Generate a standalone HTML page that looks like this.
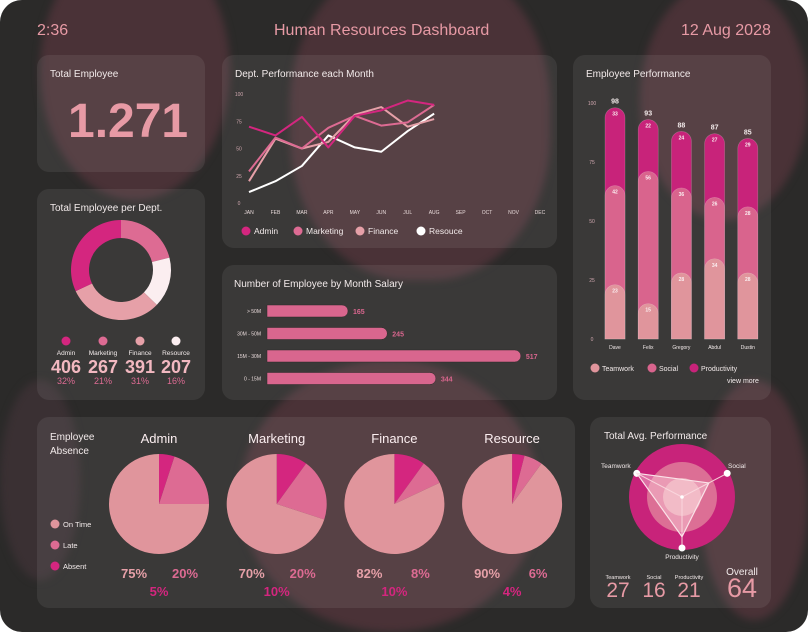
<!DOCTYPE html>
<html><head><meta charset="utf-8">
<style>
html,body{margin:0;padding:0;background:#fff;overflow:hidden;width:808px;height:632px;}
body{font-family:"Liberation Sans",sans-serif;position:relative;}
#frame{position:absolute;left:0;top:0;width:808px;height:632px;border-radius:22px;overflow:hidden;background:#2b2a29;}
.blob{position:absolute;background:#4a3237;border-radius:50%;filter:blur(4px);}
.panel{position:absolute;background:rgba(255,255,255,0.075);border-radius:12px;}
.t{position:absolute;color:#f2eaea;font-size:10px;white-space:nowrap;}
svg{position:absolute;left:0;top:0;}
</style></head><body>
<div id="frame">
<div class="blob" style="left:40px;top:-60px;width:190px;height:260px;"></div>
<div class="blob" style="left:290px;top:-40px;width:260px;height:320px;border-radius:45%;"></div>
<div class="blob" style="left:640px;top:-20px;width:168px;height:240px;"></div>
<div class="blob" style="left:240px;top:360px;width:300px;height:272px;"></div>
<div class="blob" style="left:700px;top:380px;width:108px;height:240px;"></div>
<div class="blob" style="left:0px;top:380px;width:80px;height:200px;background:#3a3033;"></div>

<div class="t" style="left:37px;top:22px;font-size:16px;color:#e79aa5;">2:36</div>
<div class="t" style="left:274px;top:22px;font-size:16px;color:#e79aa5;">Human Resources Dashboard</div>
<div class="t" style="left:681px;top:22px;font-size:16px;color:#e79aa5;">12 Aug 2028</div>

<div class="panel" style="left:37px;top:55px;width:168px;height:117px;"></div>
<div class="t" style="left:50px;top:69px;">Total Employee</div>
<div class="t" style="left:68px;top:94px;font-size:48px;font-weight:bold;color:#e79aa5;">1.271</div>

<div class="panel" style="left:37px;top:189px;width:168px;height:211px;"></div>
<div class="t" style="left:50px;top:203px;">Total Employee per Dept.</div>

<div class="panel" style="left:222px;top:55px;width:335px;height:193px;"></div>
<div class="t" style="left:235px;top:69px;">Dept. Performance each Month</div>

<div class="panel" style="left:222px;top:265px;width:335px;height:135px;"></div>
<div class="t" style="left:234px;top:279px;">Number of Employee by Month Salary</div>

<div class="panel" style="left:573px;top:55px;width:198px;height:345px;"></div>
<div class="t" style="left:586px;top:69px;">Employee Performance</div>
<div class="t" style="left:727px;top:378px;font-size:7px;">view more</div>

<div class="panel" style="left:37px;top:417px;width:538px;height:191px;"></div>
<div class="t" style="left:50px;top:431px;line-height:14px;">Employee<br>Absence</div>

<div class="panel" style="left:590px;top:417px;width:181px;height:191px;"></div>
<div class="t" style="left:604px;top:431px;">Total Avg. Performance</div>

<svg id="chart" width="808" height="632" font-family="Liberation Sans, sans-serif"></svg>
</div>
<script>
// line chart data
const months=["JAN","FEB","MAR","APR","MAY","JUN","JUL","AUG","SEP","OCT","NOV","DEC"];
const yTicks=[0,25,50,75,100];
const adminLine=[70,62,79,51,80,85,94,90];
const marketingLine=[29,60,50,69,80,71,74,90];
const financeLine=[20,59,50,56,81,88,70,77];
const resourceLine=[10,20,34,62,51,47,66,82];
const seriesNames=["Admin","Marketing","Finance","Resouce"];
// donut
const deptNames=["Admin","Marketing","Finance","Resource"];
const deptCounts=[406,267,391,207];
const deptPct=["32%","21%","31%","16%"];
// salary
const salaryCats=["> 50M","30M - 50M","15M - 30M","0 - 15M"];
const salaryVals=[165,245,517,344];
// stacked perf
const people=["Dave","Felix","Gregory","Abdul","Dustin"];
const teamwork=[23,15,28,34,28];
const social=[42,56,36,26,28];
const productivity=[33,22,24,27,29];
const perfTicks=[0,25,50,75,100];
// absence
const absDepts=["Admin","Marketing","Finance","Resource"];
const onTime=[75,70,82,90];
const late=[20,20,8,6];
const absent=[5,10,10,4];
// radar
const radarNames=["Teamwork","Social","Productivity"];
const radarVals=[27,16,21];
const overall=64;

const C={admin:"#d4267f",mkt:"#dd6b93",fin:"#e6a0a8",res:"#ffffff",prod:"#c8237a",soc:"#d9648d",team:"#e0959c"};
const svg=document.getElementById('chart');
const NS="http://www.w3.org/2000/svg";
function mk(tag,attrs,parent){const e=document.createElementNS(NS,tag);for(const k in attrs)e.setAttribute(k,attrs[k]);(parent||svg).appendChild(e);return e;}
function txt(x,y,s,size,fill,anchor,weight){const e=mk('text',{x:x,y:y,'font-size':size,fill:fill,'text-anchor':anchor||'start','font-weight':weight||'normal'});e.textContent=s;return e;}

// ---- line chart
const lx=i=>249+i*26.45, ly=v=>203-v*1.09;
yTicks.forEach(v=>{const e=txt(239,ly(v)+2,String(v),5,"#cfa7ae","middle");

});
months.forEach((m,i)=>{const e=txt(lx(i),214,m,5,"#e8dada","middle");

});
[[resourceLine,C.res],[financeLine,C.fin],[marketingLine,C.mkt],[adminLine,C.admin]].forEach(([d,c],k)=>{
 const p=mk('polyline',{points:d.map((v,i)=>lx(i)+","+ly(v)).join(" "),fill:"none",stroke:c,'stroke-width':2,'stroke-linejoin':'round'});
 
 
});
[C.admin,C.mkt,C.fin,C.res].forEach((c,i)=>{const xs=[246,298,360,421][i];
 const d=mk('circle',{cx:xs,cy:231,r:4.5,fill:c});
 
 
 const t=txt(xs+8,234,seriesNames[i],8.5,"#f2eaea");
 
 });

// ---- donut
(function(){const cx=121,cy=270,R=50,r=32;const order=[1,3,2,0];const cols=[C.admin,C.mkt,C.fin,"#fbeef0"];
 const tot=deptCounts.reduce((a,b)=>a+b,0);let a0=0;
 order.forEach(i=>{const a1=a0+deptCounts[i]/tot*2*Math.PI;
  const P=(rad,a)=>[cx+rad*Math.sin(a),cy-rad*Math.cos(a)];const lg=(a1-a0)>Math.PI?1:0;
  const [x0,y0]=P(R,a0),[x1,y1]=P(R,a1),[x2,y2]=P(r,a1),[x3,y3]=P(r,a0);
  const p=mk('path',{d:`M${x0},${y0}A${R},${R} 0 ${lg} 1 ${x1},${y1}L${x2},${y2}A${r},${r} 0 ${lg} 0 ${x3},${y3}Z`,fill:cols[i]});
  
  
  a0=a1;});
 const xs=[66,103,140,176];
 deptNames.forEach((n,i)=>{
  const d=mk('circle',{cx:xs[i],cy:341,r:4.5,fill:cols[i]});
  
  
  const a=txt(xs[i],355,n,6.5,"#f2eaea","middle");
  
  
  const b=txt(xs[i],373,String(deptCounts[i]),18,"#f2b8c0","middle","bold");
  
  
  const c=txt(xs[i],384,deptPct[i],9,"#dd6b93","middle");
  
  });
})();

// ---- salary bars
const sx=v=>267+v*0.491;
salaryCats.forEach((c,i)=>{const cy=311+i*22.5;
 const l=txt(261,cy+2,c,5,"#e8dada","end");
 
 
 const w=sx(salaryVals[i])-267;
 const b=mk('path',{d:`M267,${cy-6}H${267+w-6}A6,6 0 0 1 ${267+w-6},${cy+6}H267Z`,fill:"#d9668e",stroke:"#2b2a29",'stroke-width':0.5});
 
 
 const v=txt(sx(salaryVals[i])+5,cy+3,String(salaryVals[i]),7,"#d9668e","start","bold");
 
 });

// ---- stacked bars
const py=v=>339-v*2.36, px=i=>615+i*33.2;
perfTicks.forEach(v=>{const e=txt(592,py(v)+2,String(v),5,"#cfa7ae","middle");

});
people.forEach((n,i)=>{const x=px(i)-10,w=20;
 const t1=teamwork[i],t2=t1+social[i],t3=t2+productivity[i];
 [[t3,C.prod,productivity[i]],[t2,C.soc,social[i]],[t1,C.team,teamwork[i]]].forEach(([top,c,val])=>{
  const yt=py(top);
  const r=mk('path',{d:`M${x},339V${yt+10}A10,10 0 0 1 ${x+w},${yt+10}V339Z`,fill:c,stroke:"rgba(255,255,255,0.25)",'stroke-width':0.6});
  
  
  const l=txt(px(i),yt+8,String(val),5,"#fbeef0","middle","bold");
  
  });
 const tt=txt(px(i),py(t3)-4,String(t3),7,"#f2eaea","middle","bold");
 
 
 const nl=txt(px(i),349,n,5,"#f2eaea","middle");
 
 });
[["Teamwork",C.team,595],["Social",C.soc,652],["Productivity",C.prod,694]].forEach(([n,c,x])=>{
 const d=mk('circle',{cx:x,cy:368,r:4.5,fill:c});
 
 
 const t=txt(x+7,371,n,7,"#f2eaea");
 
 });

// ---- absence pies
const pcx=i=>159+i*117.7, pcy=504, PR=50;
[["On Time",C.team,524],["Late",C.mkt,545],["Absent",C.admin,566]].forEach(([n,c,y])=>{
 const d=mk('circle',{cx:55,cy:y,r:4.5,fill:c});
 
 
 const t=txt(63,y+3,n,7.5,"#f2eaea");
 
 });
absDepts.forEach((n,i)=>{const cx=pcx(i);
 const h=txt(cx,443,n,13,"#fbeef0","middle");
 
 
 let a0=0;
 [[absent[i],C.admin],[late[i],C.mkt],[onTime[i],C.team]].forEach(([v,c])=>{
  const a1=a0+v/100*2*Math.PI;const lg=(a1-a0)>Math.PI?1:0;
  const x0=cx+PR*Math.sin(a0),y0=pcy-PR*Math.cos(a0),x1=cx+PR*Math.sin(a1),y1=pcy-PR*Math.cos(a1);
  const p=mk('path',{d:`M${cx},${pcy}L${x0},${y0}A${PR},${PR} 0 ${lg} 1 ${x1},${y1}Z`,fill:c});
  
  
  a0=a1;});
 const a=txt(cx-25,578,onTime[i]+"%",13,C.fin,"middle","bold");
 
 
 const b=txt(cx+26,578,late[i]+"%",13,C.mkt,"middle","bold");
 
 
 const c=txt(cx,596,absent[i]+"%",13,C.admin,"middle","bold");
 
 });

// ---- radar
(function(){const cx=682,cy=497;
 [[53,"#c8237a"],[35,"#dc6f95"],[19,"#eaa6b5"]].forEach(([r,c])=>{const e=mk('circle',{cx:cx,cy:cy,r:r,fill:c});
 
 });
 const dirs=[[-0.886,-0.464],[0.886,-0.464],[0,1]];
 const rr=v=>v/28*53;
 const pts=radarVals.map((v,i)=>[cx+dirs[i][0]*rr(v),cy+dirs[i][1]*rr(v)]);
 dirs.forEach((d,i)=>{const l=mk('line',{x1:cx,y1:cy,x2:cx+d[0]*51,y2:cy+d[1]*51,stroke:"#f6d0d8",'stroke-width':1});
  
  
  const e=mk('circle',{cx:cx+d[0]*51,cy:cy+d[1]*51,r:3.5,fill:"#fff"});
  
  });
 const poly=mk('polygon',{points:pts.map(p=>p.join(",")).join(" "),fill:"rgba(255,220,228,0.4)",stroke:"#fbe3e8",'stroke-width':1.2});
 
 
 const c=mk('circle',{cx:cx,cy:cy,r:1.8,fill:"#fff"});
 
 
 const lbl=[[601,468,"start"],[728,468,"start"],[682,559,"middle"]];
 radarNames.forEach((n,i)=>{const t=txt(lbl[i][0],lbl[i][1],n,6.5,"#f2eaea",lbl[i][2]);
  
  });
 const sxs=[618,654,689];
 radarNames.forEach((n,i)=>{const t=txt(sxs[i],579,n,5.5,"#f2eaea","middle");
  
  
  const v=txt(sxs[i],597,String(radarVals[i]),21,"#e79aa5","middle");
  
  });
 const o=txt(742,575,"Overall",10,"#f2eaea","middle");
 
 
 const ov=txt(742,597,String(overall),27,"#e79aa5","middle");
 
 
})();
</script>
</body></html>
